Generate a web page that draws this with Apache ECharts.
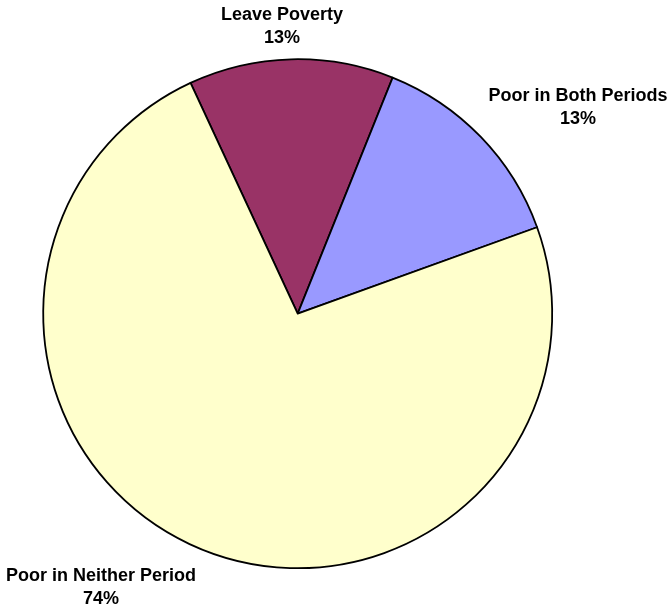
<!DOCTYPE html>
<html>
<head>
<meta charset="utf-8">
<script src="https://cdn.jsdelivr.net/npm/echarts@6/dist/echarts.min.js"></script>
<style>
html,body{margin:0;padding:0;background:#fff;}
#chart{width:670px;height:607px;}
</style>
</head>
<body>
<div id="chart"></div>
<script>
var categories = ['Leave Poverty', 'Poor in Both Periods', 'Poor in Neither Period'];
var values = [13.0, 13.4, 73.6];
var colors = ['#993366', '#9999FF', '#FFFFCC'];
var labelPos = [[282, 26.5], [578, 108], [101, 588]];

var chart = echarts.init(document.getElementById('chart'), null, {renderer: 'canvas'});
chart.setOption({
  backgroundColor: '#ffffff',
  animation: false,
  series: [{
    type: 'pie',
    center: [297.7, 313.7],
    radius: 254.5,
    startAngle: 114.9,
    clockwise: true,
    percentPrecision: 0,
    avoidLabelOverlap: false,
    data: categories.map(function (c, i) {
      return {name: c, value: values[i], itemStyle: {color: colors[i]}};
    }),
    itemStyle: {borderColor: '#000', borderWidth: 1.8},
    label: {
      show: true,
      position: 'outside',
      formatter: '{b}\n{d}%',
      fontFamily: 'Liberation Sans, Arial, sans-serif',
      fontWeight: 'bold',
      fontSize: 18,
      lineHeight: 23,
      color: '#000',
      align: 'center'
    },
    labelLine: {show: false},
    labelLayout: function (p) {
      var pos = labelPos[p.dataIndex];
      return {x: pos[0], y: pos[1], align: 'center', verticalAlign: 'middle'};
    },
    emphasis: {disabled: true}
  }]
});
</script>
</body>
</html>
